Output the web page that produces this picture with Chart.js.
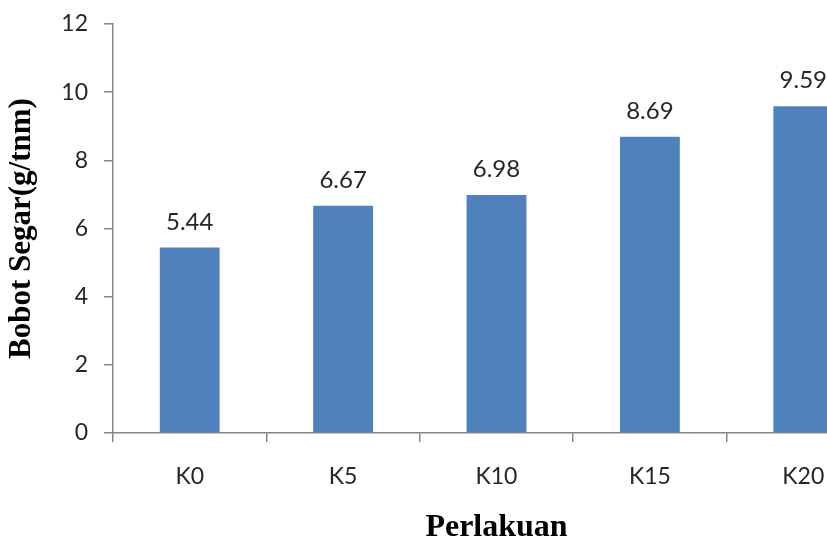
<!DOCTYPE html>
<html>
<head>
<meta charset="utf-8">
<script src="https://cdn.jsdelivr.net/npm/chart.js@4/dist/chart.umd.min.js"></script>
<style>
  html, body { margin: 0; padding: 0; background: #fff; overflow: hidden; }
  #wrap { width: 880px; height: 540px; }
</style>
</head>
<body>
<div id="wrap"><canvas id="c" width="880" height="540"></canvas></div>
<script>
// Treatments and fresh weight values
const categories = ['K0', 'K5', 'K10', 'K15', 'K20'];
const bobotSegar = [5.44, 6.67, 6.98, 8.69, 9.59];
const yTicks = [0, 2, 4, 6, 8, 10, 12];

const axisGray = '#868686';
const textColor = '#262626';

// Value labels above each bar
const valueLabels = {
  id: 'valueLabels',
  afterDatasetsDraw(chart) {
    const ctx = chart.ctx;
    const meta = chart.getDatasetMeta(0);
    ctx.save();
    ctx.font = '24px Lato';
    ctx.fillStyle = textColor;
    ctx.textAlign = 'center';
    ctx.textBaseline = 'alphabetic';
    meta.data.forEach((bar, i) => {
      ctx.fillText(bobotSegar[i].toFixed(2), bar.x, bar.y - 18);
    });
    ctx.restore();
  }
};

new Chart(document.getElementById('c'), {
  type: 'bar',
  data: {
    labels: categories,
    datasets: [{
      data: bobotSegar,
      backgroundColor: '#4F81BD',
      categoryPercentage: 1,
      barPercentage: 0.39
    }]
  },
  options: {
    responsive: false,
    animation: false,
    layout: { padding: { top: 24, right: 0, left: 0, bottom: 0 } },
    plugins: { legend: { display: false }, tooltip: { enabled: false } },
    scales: {
      x: {
        afterFit(s) { s.height = 107; s.paddingLeft = 0; s.paddingRight = 0; },
        border: { color: axisGray, width: 1.5 },
        grid: { drawOnChartArea: false, drawTicks: true, tickLength: 9, color: axisGray, lineWidth: 1.5, offset: true },
        ticks: { color: textColor, font: { family: 'Lato', size: 23 }, padding: 21 },
        title: {
          display: true, text: 'Perlakuan', color: '#000',
          font: { family: 'Liberation Serif', size: 32, weight: 'bold', lineHeight: 1 },
          padding: { top: 8, bottom: -4 }
        }
      },
      y: {
        min: 0, max: 12,
        afterFit(s) { s.width = 113; s.paddingTop = 0; s.paddingBottom = 0; },
        afterBuildTicks(s) { s.ticks = yTicks.map(v => ({ value: v })); },
        border: { color: axisGray, width: 1.5 },
        grid: { drawOnChartArea: false, drawTicks: true, tickLength: 9, color: axisGray, lineWidth: 1.5 },
        ticks: { color: textColor, font: { family: 'Lato', size: 23 }, padding: 16 },
        title: {
          display: true, text: 'Bobot Segar(g/tnm)', color: '#000',
          font: { family: 'Liberation Serif', size: 31, weight: 'bold' },
          padding: { top: 3, bottom: 8 }
        }
      }
    }
  },
  plugins: [valueLabels]
});
</script>
</body>
</html>
